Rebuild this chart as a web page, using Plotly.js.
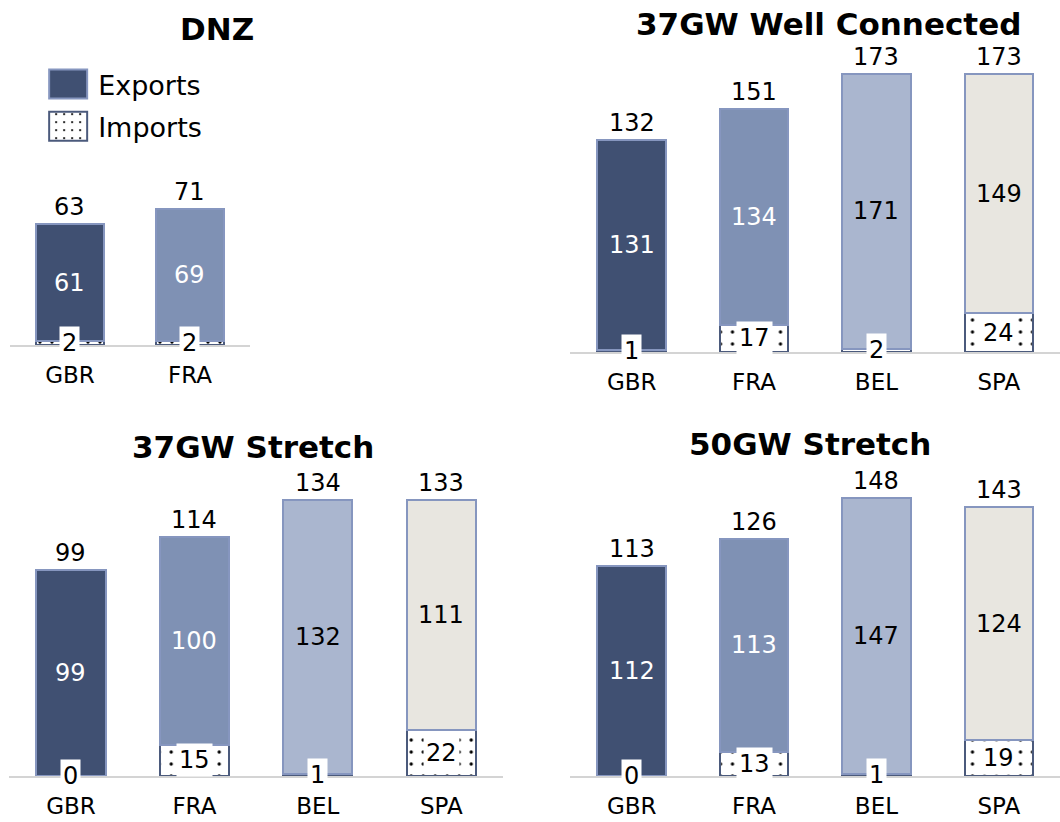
<!DOCTYPE html>
<html>
<head>
<meta charset="utf-8">
<script src="https://cdn.plot.ly/plotly-3.0.1.min.js"></script>
<style>
  body { margin: 0; background: #fff; }
  #chart { width: 1060px; height: 822px; }
</style>
</head>
<body>
<div id="chart"></div>
<script>
// categories
var dnzCats = ["GBR", "FRA"];
var cats = ["GBR", "FRA", "BEL", "SPA"];

// values per scenario
var dnzExports = [61, 69];
var dnzImports = [2, 2];
var dnzTotals = [63, 71];

var wcExports = [131, 134, 171, 149];
var wcImports = [1, 17, 2, 24];
var wcTotals = [132, 151, 173, 173];

var s37Exports = [99, 100, 132, 111];
var s37Imports = [0, 15, 1, 22];
var s37Totals = [99, 114, 134, 133];

var s50Exports = [112, 113, 147, 124];
var s50Imports = [0, 13, 1, 19];
var s50Totals = [113, 126, 148, 143];

var barColors = ["#405072", "#7f91b4", "#aab6cf", "#e8e6e0"];
var labelColors = ["#ffffff", "#ffffff", "#000000", "#000000"];

var panels = [
  {title: "DNZ", cats: dnzCats, exp: dnzExports, imp: dnzImports, tot: dnzTotals,
   xd: [0.0094, 0.2358], yd: [0.5803, 0.927], ymax: 148.4, tx: 217, ty: 29},
  {title: "37GW Well Connected", cats: cats, exp: wcExports, imp: wcImports, tot: wcTotals,
   xd: [0.5382, 1.0], yd: [0.5718, 0.9392], ymax: 187.9, tx: 828, ty: 24},
  {title: "37GW Stretch", cats: cats, exp: s37Exports, imp: s37Imports, tot: s37Totals,
   xd: [0.0087, 0.4745], yd: [0.056, 0.4282], ymax: 147.3, tx: 253, ty: 447},
  {title: "50GW Stretch", cats: cats, exp: s50Exports, imp: s50Imports, tot: s50Totals,
   xd: [0.5382, 1.0], yd: [0.056, 0.4282], ymax: 162.9, tx: 810, ty: 444}
];

var data = [];
var annotations = [];
var layout = {
  width: 1060,
  height: 822,
  margin: {l: 0, r: 0, t: 0, b: 0},
  paper_bgcolor: "#ffffff",
  plot_bgcolor: "#ffffff",
  font: {family: "DejaVu Sans", size: 24, color: "#000000"},
  barmode: "stack",
  bargap: 0.44,
  showlegend: true,
  legend: {
    x: 0.036, y: 0.927, xanchor: "left", yanchor: "top",
    font: {size: 27},
    itemwidth: 50,
    traceorder: "grouped",
    tracegroupgap: 4,
    bgcolor: "rgba(0,0,0,0)"
  },
  annotations: annotations
};

panels.forEach(function(p, i) {
  var n = i === 0 ? "" : String(i + 1);
  var xa = "x" + n, ya = "y" + n;

  data.push({
    type: "bar", name: "Imports", x: p.cats, y: p.imp,
    xaxis: xa, yaxis: ya,
    legendgroup: "imp", legendrank: 2, showlegend: i === 0,
    marker: {
      color: "#ffffff",
      pattern: {shape: ".", fgcolor: "#000000", bgcolor: "#ffffff", size: 12, solidity: 0.06},
      line: {color: "#4b5a7c", width: 2}
    },
    hoverinfo: "skip"
  });
  data.push({
    type: "bar", name: "Exports", x: p.cats, y: p.exp,
    xaxis: xa, yaxis: ya,
    legendgroup: "exp", legendrank: 1, showlegend: i === 0,
    marker: {
      color: barColors.slice(0, p.cats.length),
      line: {color: "#8696bf", width: 2}
    },
    hoverinfo: "skip"
  });

  layout["xaxis" + n] = {
    domain: p.xd, anchor: ya, range: [-0.5, p.cats.length - 0.5],
    showgrid: false, zeroline: false, ticks: "",
    showline: true, linecolor: "#d4d4d4", linewidth: 2, layer: "below traces",
    ticklabelstandoff: 8, tickfont: {size: 23}
  };
  layout["yaxis" + n] = {
    domain: p.yd, anchor: xa, range: [0, p.ymax],
    visible: false, showgrid: false, zeroline: false
  };

  annotations.push({
    xref: "paper", yref: "paper", x: p.tx / 1060, y: 1 - p.ty / 822,
    xanchor: "center", yanchor: "middle", showarrow: false,
    text: "<b>" + p.title + "</b>", font: {size: 31}
  });

  p.cats.forEach(function(c, j) {
    // total above bar
    annotations.push({
      xref: xa, yref: ya, x: c, y: p.exp[j] + p.imp[j],
      xanchor: "center", yanchor: "bottom", yshift: 1, showarrow: false,
      text: String(p.tot[j]), font: {size: 24}
    });
    // exports in the middle of the coloured part
    annotations.push({
      xref: xa, yref: ya, x: c, y: p.imp[j] + p.exp[j] / 2,
      xanchor: "center", yanchor: "middle", showarrow: false,
      text: String(p.exp[j]), font: {size: 24, color: labelColors[j]}
    });
    // imports on the patterned part, white box
    annotations.push({
      xref: xa, yref: ya, x: c, y: p.imp[j] / 2,
      xanchor: "center", yanchor: "middle", showarrow: false,
      text: String(p.imp[j]), font: {size: 24},
      bgcolor: "#ffffff", borderpad: 2
    });
  });
});

Plotly.newPlot("chart", data, layout, {staticPlot: true}).then(function() {
  // bigger legend swatches, like the original
  document.querySelectorAll(".legend .legendpoints path").forEach(function(el) {
    el.setAttribute("d", "M19,14.5H-19V-14.5H19Z");
  });
});
</script>
</body>
</html>
